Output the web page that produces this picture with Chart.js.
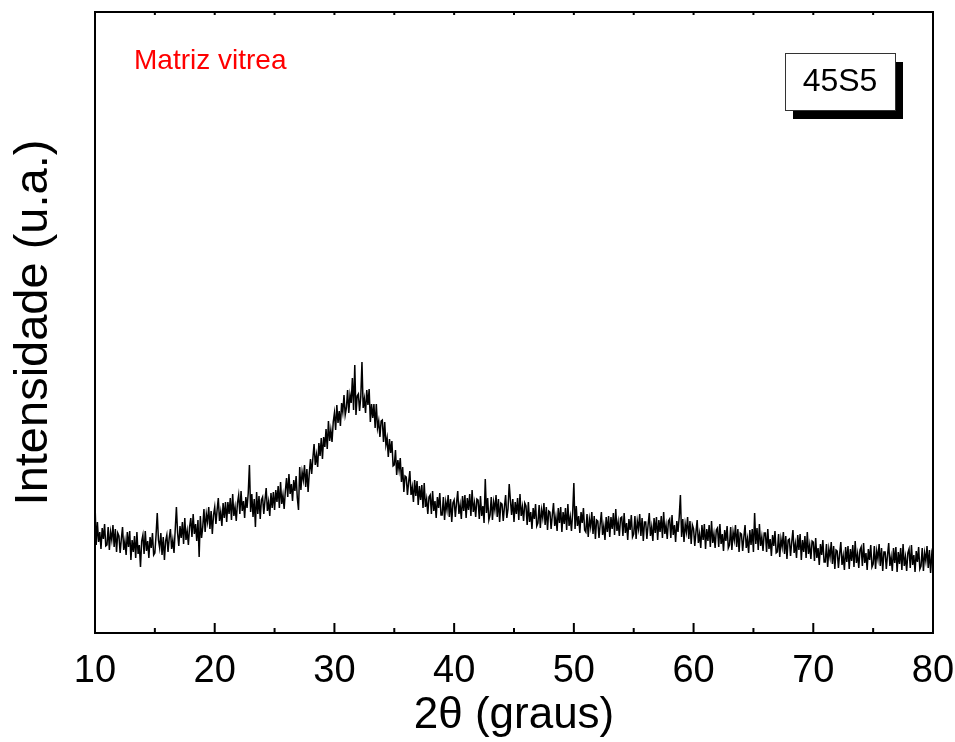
<!DOCTYPE html>
<html>
<head>
<meta charset="utf-8">
<script src="https://cdn.jsdelivr.net/npm/chart.js@4.4.1/dist/chart.umd.min.js"></script>
<style>
html, body { margin: 0; padding: 0; background: #fff; }
</style>
</head>
<body>
<canvas id="chart" width="955" height="742"></canvas>
<script>
// varredura: 10 a 80 graus, passo 0.1
const startAngle = 10
const stepAngle = 0.1

const scanLow = [
  130, 88, 111, 91, 101, 84, 105, 94, 109, 87,
  88, 106, 83, 101, 93, 108, 86, 104, 81, 100,
  97, 80, 94, 106, 83, 92, 78, 101, 86, 102,
  73, 93, 81, 97, 75, 101, 79, 88, 66, 92,
  98, 79, 102, 82, 92, 75, 96, 85, 100, 78,
  80, 98, 120, 93, 85, 100, 78, 96, 73, 92,
  98, 81, 95, 104, 84, 93, 80, 103, 126, 100,
  87, 107, 95, 111, 89, 115, 93, 102, 88, 106,
  115, 96, 119, 99, 109, 92, 113, 76, 117, 95,
  106, 124, 101, 119, 111, 126, 104, 122, 99, 118,
  126, 109, 123, 135, 112, 121, 107, 130, 115, 131,
  111, 131, 119, 135, 113, 139, 117, 126, 112, 130,
  138, 119, 142, 122, 132, 115, 136, 125, 140, 168,
  121, 139, 116, 134, 106, 141, 119, 137, 114, 133,
  136, 119, 133, 145, 122, 131, 117, 140, 125, 141,
  123, 143, 131, 147, 125, 151, 129, 138, 124, 142,
  155, 136, 159, 139, 149, 132, 153, 142, 157, 135,
  123, 166, 143, 161, 153, 168, 146, 164, 141, 160,
  174, 159, 175, 189, 168, 178, 166, 190, 177, 195,
  174, 196, 186, 204, 184, 212, 192, 203, 191, 211
]
const scanPeak = [
  220, 203, 228, 210, 222, 207, 230, 221, 238, 218,
  225, 243, 220, 238, 230, 255, 223, 268, 218, 237,
  239, 222, 236, 271, 225, 234, 220, 243, 228, 244,
  211, 229, 215, 229, 205, 229, 205, 212, 196, 212,
  213, 191, 211, 188, 195, 176, 194, 180, 192, 167,
  168, 183, 158, 173, 163, 175, 151, 166, 141, 157,
  156, 138, 151, 162, 138, 146, 131, 153, 137, 152,
  128, 147, 133, 148, 125, 150, 126, 134, 119, 136,
  138, 119, 142, 122, 132, 115, 136, 125, 140, 118,
  118, 136, 113, 131, 123, 138, 116, 134, 111, 130
]
const scanMid = [
  133, 116, 130, 142, 119, 128, 114, 137, 122, 138,
  115, 135, 123, 139, 117, 143, 121, 130, 116, 134,
  133, 114, 137, 117, 127, 110, 154, 120, 135, 113,
  118, 136, 113, 131, 123, 138, 116, 134, 111, 130,
  129, 112, 126, 138, 115, 124, 149, 133, 118, 134,
  111, 131, 119, 135, 113, 139, 117, 126, 112, 130,
  127, 108, 131, 111, 121, 104, 125, 114, 129, 107,
  110, 128, 105, 123, 115, 130, 108, 126, 103, 122,
  121, 104, 118, 130, 107, 116, 102, 125, 110, 126,
  101, 121, 109, 125, 103, 129, 107, 116, 102, 120,
  150, 104, 127, 107, 117, 100, 121, 110, 125, 103,
  101, 119, 96, 114, 106, 121, 99, 117, 94, 113,
  112, 95, 109, 121, 98, 107, 93, 116, 101, 117,
  96, 116, 104, 120, 98, 124, 102, 111, 97, 115,
  116, 97, 120, 100, 110, 93, 114, 103, 118, 96,
  99, 117, 94, 112, 104, 119, 97, 115, 92, 111,
  111, 94, 108, 120, 97, 106, 92, 115, 100, 116,
  93, 113, 101, 117, 95, 121, 99, 108, 94, 112,
  114, 95, 118, 98, 108, 91, 112, 101, 116, 138,
  96, 114, 91, 109, 101, 116, 94, 112, 89, 108
]
const scanHigh = [
  104, 87, 101, 113, 90, 99, 85, 108, 93, 109,
  84, 104, 92, 108, 86, 112, 90, 99, 85, 103,
  105, 86, 109, 89, 99, 82, 103, 92, 107, 85,
  88, 106, 83, 101, 93, 108, 86, 104, 81, 100,
  99, 82, 96, 108, 85, 94, 80, 103, 88, 104,
  81, 120, 89, 105, 83, 109, 87, 96, 82, 100,
  100, 81, 104, 84, 94, 77, 98, 87, 102, 80,
  81, 99, 76, 94, 86, 101, 79, 97, 74, 93,
  94, 77, 91, 103, 80, 89, 75, 98, 83, 99,
  73, 93, 81, 97, 75, 101, 79, 88, 74, 92,
  91, 72, 95, 75, 85, 68, 89, 78, 93, 71,
  71, 89, 66, 84, 76, 91, 69, 87, 64, 83,
  82, 65, 79, 91, 68, 77, 63, 86, 71, 87,
  64, 84, 72, 88, 66, 92, 70, 79, 65, 83,
  86, 67, 90, 70, 80, 63, 84, 73, 88, 66,
  69, 87, 64, 82, 74, 89, 67, 85, 62, 81,
  81, 64, 78, 90, 67, 76, 62, 85, 70, 86,
  61, 81, 69, 85, 63, 89, 67, 76, 62, 80,
  84, 65, 88, 68, 78, 61, 82, 71, 86, 64,
  67, 85, 62, 80, 72, 87, 65, 83, 60, 79,
  72
]

const xMajor = [10, 20, 30, 40, 50, 60, 70, 80]
const xMinor = [15, 25, 35, 45, 55, 65, 75]
const sampleLabel = '45S5'
const noteLabel = 'Matriz vitrea'

const intensity = scanLow.concat(scanPeak, scanMid, scanHigh)
const points = intensity.map((v, i) => ({ x: +(startAngle + i * stepAngle).toFixed(1), y: v }))

const fontName = '"Liberation Sans", Arial, sans-serif'

const framePlugin = {
  id: 'frame',
  afterDatasetsDraw(chart) {
    const ctx = chart.ctx
    const a = chart.chartArea
    const xs = chart.scales.x
    ctx.save()
    ctx.strokeStyle = '#000'
    ctx.lineWidth = 2
    ctx.strokeRect(a.left, a.top, a.right - a.left, a.bottom - a.top)
    // ticks para dentro
    ctx.beginPath()
    xMajor.forEach(v => {
      const px = xs.getPixelForValue(v)
      ctx.moveTo(px, a.bottom); ctx.lineTo(px, a.bottom - 10)
      ctx.moveTo(px, a.top); ctx.lineTo(px, a.top + 3)
    })
    xMinor.forEach(v => {
      const px = xs.getPixelForValue(v)
      ctx.moveTo(px, a.bottom); ctx.lineTo(px, a.bottom - 5)
      ctx.moveTo(px, a.top); ctx.lineTo(px, a.top + 3)
    })
    ctx.stroke()

    // anotacao
    ctx.fillStyle = '#ff0000'
    ctx.font = '28px ' + fontName
    ctx.textBaseline = 'alphabetic'
    ctx.textAlign = 'left'
    ctx.fillText(noteLabel, a.left + 39, a.top + 57)

    // caixa da amostra com sombra
    const bx = a.right - 148, by = a.top + 41, bw = 110, bh = 57
    ctx.fillStyle = '#000'
    ctx.fillRect(bx + 8, by + 9, bw, bh)
    ctx.fillStyle = '#fff'
    ctx.fillRect(bx, by, bw, bh)
    ctx.lineWidth = 1
    ctx.strokeStyle = '#333'
    ctx.strokeRect(bx + 0.5, by + 0.5, bw, bh)
    ctx.fillStyle = '#000'
    ctx.font = '32px ' + fontName
    ctx.textAlign = 'center'
    ctx.textBaseline = 'middle'
    ctx.fillText(sampleLabel, bx + bw / 2, by + bh / 2 + 1)
    ctx.restore()
  }
}

new Chart(document.querySelector('#chart'), {
  type: 'line',
  data: {
    datasets: [{
      data: points,
      borderColor: '#000',
      borderWidth: 1.5,
      pointRadius: 0,
      tension: 0,
      fill: false
    }]
  },
  options: {
    responsive: false,
    animation: false,
    layout: { padding: { top: 12, right: 22, left: 0, bottom: 0 } },
    plugins: { legend: { display: false }, tooltip: { enabled: false } },
    scales: {
      x: {
        type: 'linear',
        min: 10,
        max: 80,
        afterFit: s => { s.height = 109; s.paddingLeft = 0; s.paddingRight = 0 },
        grid: { display: false },
        border: { display: false },
        ticks: {
          stepSize: 10,
          color: '#000',
          padding: 8,
          font: { family: fontName, size: 38 }
        },
        title: {
          display: true,
          text: '2θ (graus)',
          color: '#000',
          padding: 0,
          font: { family: fontName, size: 44 }
        }
      },
      y: {
        type: 'linear',
        min: 0,
        max: 621,
        afterFit: s => { s.width = 95 },
        grid: { display: false },
        border: { display: false },
        ticks: { display: false },
        title: {
          display: true,
          text: 'Intensidade (u.a.)',
          color: '#000',
          padding: { top: 6, bottom: 0 },
          font: { family: fontName, size: 47 }
        }
      }
    }
  },
  plugins: [framePlugin]
})
</script>
</body>
</html>
